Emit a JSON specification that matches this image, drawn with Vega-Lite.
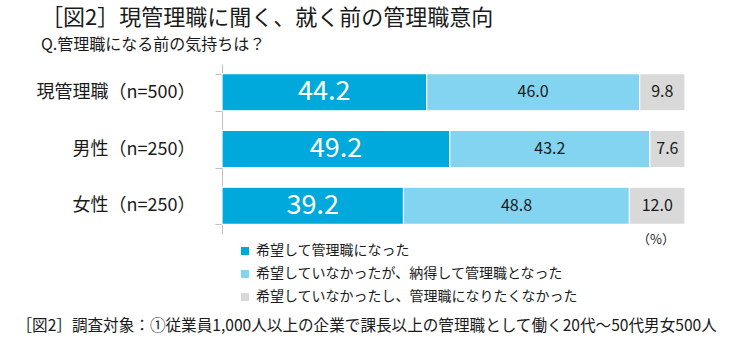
{
  "$schema": "https://vega.github.io/schema/vega-lite/v6.json",
  "width": 463,
  "height": 170,
  "autosize": {"type": "none"},
  "padding": {"left": 222, "top": 64, "right": 47, "bottom": 114},
  "background": "white",
  "config": {
    "view": {"stroke": null},
    "font": "Noto Sans CJK JP"
  },
  "title": {
    "text": "［図2］現管理職に聞く、就く前の管理職意向",
    "subtitle": "Q.管理職になる前の気持ちは？",
    "anchor": "start",
    "frame": "group",
    "dx": -181,
    "offset": 1,
    "fontSize": 22,
    "fontWeight": "normal",
    "color": "#1a1a1a",
    "subtitleFontSize": 16,
    "subtitleColor": "#1a1a1a",
    "subtitlePadding": 7
  },
  "data": {
    "values": [
      {"group": "現管理職（n=500）", "category": "希望して管理職になった", "k": 1, "value": 44.2},
      {"group": "現管理職（n=500）", "category": "希望していなかったが、納得して管理職となった", "k": 2, "value": 46.0},
      {"group": "現管理職（n=500）", "category": "希望していなかったし、管理職になりたくなかった", "k": 3, "value": 9.8},
      {"group": "男性（n=250）", "category": "希望して管理職になった", "k": 1, "value": 49.2},
      {"group": "男性（n=250）", "category": "希望していなかったが、納得して管理職となった", "k": 2, "value": 43.2},
      {"group": "男性（n=250）", "category": "希望していなかったし、管理職になりたくなかった", "k": 3, "value": 7.6},
      {"group": "女性（n=250）", "category": "希望して管理職になった", "k": 1, "value": 39.2},
      {"group": "女性（n=250）", "category": "希望していなかったが、納得して管理職となった", "k": 2, "value": 48.8},
      {"group": "女性（n=250）", "category": "希望していなかったし、管理職になりたくなかった", "k": 3, "value": 12.0}
    ]
  },
  "transform": [
    {"stack": "value", "groupby": ["group"], "sort": [{"field": "k", "order": "ascending"}], "as": ["x0", "x1"]},
    {"calculate": "(datum.x0 + datum.x1) / 2", "as": "mid"}
  ],
  "encoding": {
    "y": {
      "field": "group",
      "type": "nominal",
      "sort": ["現管理職（n=500）", "男性（n=250）", "女性（n=250）"],
      "scale": {"paddingInner": 0.345, "paddingOuter": 0.17},
      "axis": {
        "title": null,
        "domainColor": "#BFBFBF",
        "tickColor": "#BFBFBF",
        "tickBand": "extent",
        "tickSize": 7,
        "labelFontSize": 18,
        "labelColor": "#1a1a1a",
        "labelPadding": 20
      }
    }
  },
  "layer": [
    {
      "mark": {"type": "bar", "stroke": "white", "strokeWidth": 1.2},
      "encoding": {
        "x": {
          "field": "x0",
          "type": "quantitative",
          "scale": {"domain": [0, 100], "nice": false},
          "axis": {
            "title": "［図2］調査対象：①従業員1,000人以上の企業で課長以上の管理職として働く20代～50代男女500人",
            "labels": false,
            "ticks": false,
            "domain": false,
            "grid": false,
            "titleAnchor": "start",
            "titleAlign": "left",
            "titleX": -206,
            "titleY": 96,
            "titleBaseline": "alphabetic",
            "titleFontSize": 15.6,
            "titleFontWeight": "normal",
            "titleColor": "#1a1a1a",
            "titleLimit": 800
          }
        },
        "x2": {"field": "x1"},
        "color": {
          "field": "category",
          "type": "nominal",
          "scale": {
            "domain": ["希望して管理職になった", "希望していなかったが、納得して管理職となった", "希望していなかったし、管理職になりたくなかった"],
            "range": ["#00A9DC", "#82D4F0", "#D9D9D9"]
          },
          "legend": {
            "orient": "none",
            "legendX": 16,
            "legendY": 180,
            "title": null,
            "symbolType": "square",
            "symbolSize": 64,
            "symbolStrokeWidth": 0,
            "labelFontSize": 14,
            "labelColor": "#1a1a1a",
            "labelOffset": 4,
            "rowPadding": 9,
            "labelLimit": 500
          }
        }
      }
    },
    {
      "transform": [{"filter": "datum.k == 1"}],
      "mark": {"type": "text", "color": "white", "fontSize": 27, "baseline": "middle", "align": "center"},
      "encoding": {
        "x": {"field": "mid", "type": "quantitative"},
        "text": {"field": "value", "type": "quantitative", "format": ".1f"}
      }
    },
    {
      "transform": [{"filter": "datum.k != 1"}],
      "mark": {"type": "text", "color": "#1a1a1a", "fontSize": 16, "baseline": "middle", "align": "center"},
      "encoding": {
        "x": {"field": "mid", "type": "quantitative"},
        "text": {"field": "value", "type": "quantitative", "format": ".1f"}
      }
    },
    {
      "transform": [{"filter": "datum.k == 3 && datum.group == '女性（n=250）'"}],
      "mark": {"type": "text", "color": "#1a1a1a", "fontSize": 13, "baseline": "middle", "align": "right", "dx": -10, "dy": 34},
      "encoding": {
        "x": {"datum": 100},
        "text": {"value": "（%）"}
      }
    }
  ]
}
